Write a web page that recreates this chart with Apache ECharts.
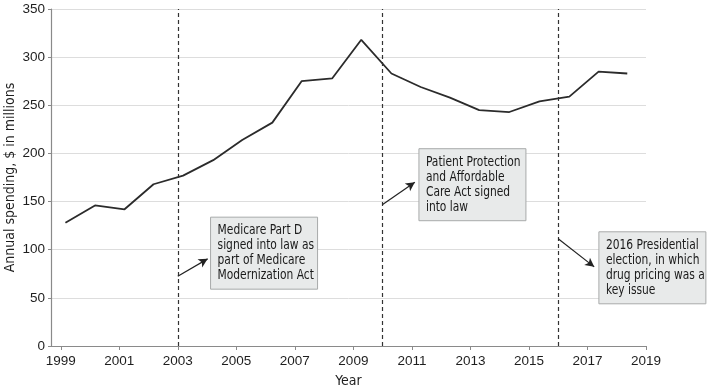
<!DOCTYPE html>
<html>
<head>
<meta charset="utf-8">
<script src="https://cdn.jsdelivr.net/npm/echarts@6/dist/echarts.min.js"></script>
<style>
html,body{margin:0;padding:0;background:#fff;}
#c{width:709px;height:391px;}
</style>
</head>
<body>
<div id="c"></div>
<script>
// Data
const years = [1999.16, 2000.17, 2001.18, 2002.17, 2003.18, 2004.21, 2005.2, 2006.23, 2007.23, 2008.28,
               2009.27, 2010.3, 2011.3, 2012.3, 2013.3, 2014.33, 2015.36, 2016.38, 2017.38, 2018.36];
const spending = [128, 146, 142, 168, 177, 193, 214, 232, 275, 278,
                  318, 283, 269, 258, 245, 243, 254, 259, 285, 283];
const xTicks = [1999, 2001, 2003, 2005, 2007, 2009, 2011, 2013, 2015, 2017, 2019];
const eventYears = [2003, 2010, 2016];
const noteTexts = [
  'Medicare Part D\nsigned into law as\npart of Medicare\nModernization Act',
  'Patient Protection\nand Affordable\nCare Act signed\ninto law',
  '2016 Presidential\nelection, in which\ndrug pricing was a\nkey issue'
];
// box top-left anchors in data coordinates
const noteAnchors = [[2004.12, 133.8], [2011.24, 204.9], [2017.39, 118.6]];
// arrow start/end in data coordinates
const arrowFrom = [[2003, 72.5], [2010, 147], [2016, 111.3]];
const arrowTo = [[2004.02, 90.5], [2011.1, 170], [2017.23, 82.2]];

const FONT = '"DejaVu Sans Condensed", sans-serif';
const TICKFONT = '"Liberation Sans", Arial, sans-serif';
const chart = echarts.init(document.getElementById('c'));

const pts = years.map((y, i) => [y, spending[i]]);

chart.setOption({
  animation: false,
  grid: {left: 51, right: 63, top: 9, bottom: 45, containLabel: false, outerBoundsMode: 'none'},
  xAxis: {
    type: 'value', min: 1998.6667, max: 2019,
    name: 'Year', nameLocation: 'middle', nameGap: 28, nameMoveOverlap: false,
    nameTextStyle: {fontFamily: FONT, fontSize: 14, color: '#1e1e1e'},
    axisLine: {show: true, lineStyle: {color: '#8a8a8a', width: 1.2}},
    axisTick: {show: true, length: 4, customValues: xTicks, lineStyle: {color: '#8a8a8a'}},
    axisLabel: {customValues: xTicks, formatter: v => String(Math.round(v)),
                fontFamily: TICKFONT, fontSize: 13.5, color: '#1e1e1e', margin: 8},
    splitLine: {show: false}
  },
  yAxis: {
    type: 'value', min: 0, max: 350, interval: 50,
    name: 'Annual spending, $ in millions', nameLocation: 'middle', nameGap: 34, nameMoveOverlap: false,
    nameTextStyle: {fontFamily: FONT, fontSize: 14, color: '#1e1e1e'},
    axisLine: {show: true, lineStyle: {color: '#8a8a8a', width: 1.2}},
    axisTick: {show: true, length: 3, lineStyle: {color: '#8a8a8a'}},
    axisLabel: {fontFamily: TICKFONT, fontSize: 13.5, color: '#1e1e1e', margin: 6},
    splitLine: {show: true, lineStyle: {color: '#dddddd', width: 1}}
  },
  series: [
    {
      type: 'line', data: pts, symbol: 'none',
      lineStyle: {color: '#2b2b2b', width: 1.8},
      z: 3,
      markLine: {
        silent: true, symbol: ['none', 'none'], label: {show: false},
        lineStyle: {color: '#333', type: [4, 3], width: 1.2},
        data: eventYears.map(y => ({xAxis: y}))
      }
    },
    {
      type: 'line', data: [], symbol: 'none',
      markLine: {
        silent: true, label: {show: false},
        symbol: ['none', 'arrow'], symbolSize: [7, 9],
        lineStyle: {color: '#222', type: 'solid', width: 1.2},
        data: arrowFrom.map((a, i) => [{coord: a}, {coord: arrowTo[i]}])
      }
    }
  ]
});

function drawNotes() {
  const els = noteTexts.map((t, i) => {
    const p = chart.convertToPixel({gridIndex: 0}, noteAnchors[i]);
    return {
      type: 'group', x: p[0], y: p[1], z: 10,
      children: [
        {type: 'rect', shape: {x: 0, y: 0, width: 107, height: 72},
         style: {fill: '#e8eaea', stroke: '#a8aaaa', lineWidth: 1}},
        {type: 'text', x: 7, y: 6, scaleX: 0.88,
         style: {text: t, fontFamily: FONT, fontSize: 13.5, lineHeight: 15, fill: '#1a1a1a'}}
      ]
    };
  });
  chart.setOption({graphic: els});
}
drawNotes();
</script>
</body>
</html>
